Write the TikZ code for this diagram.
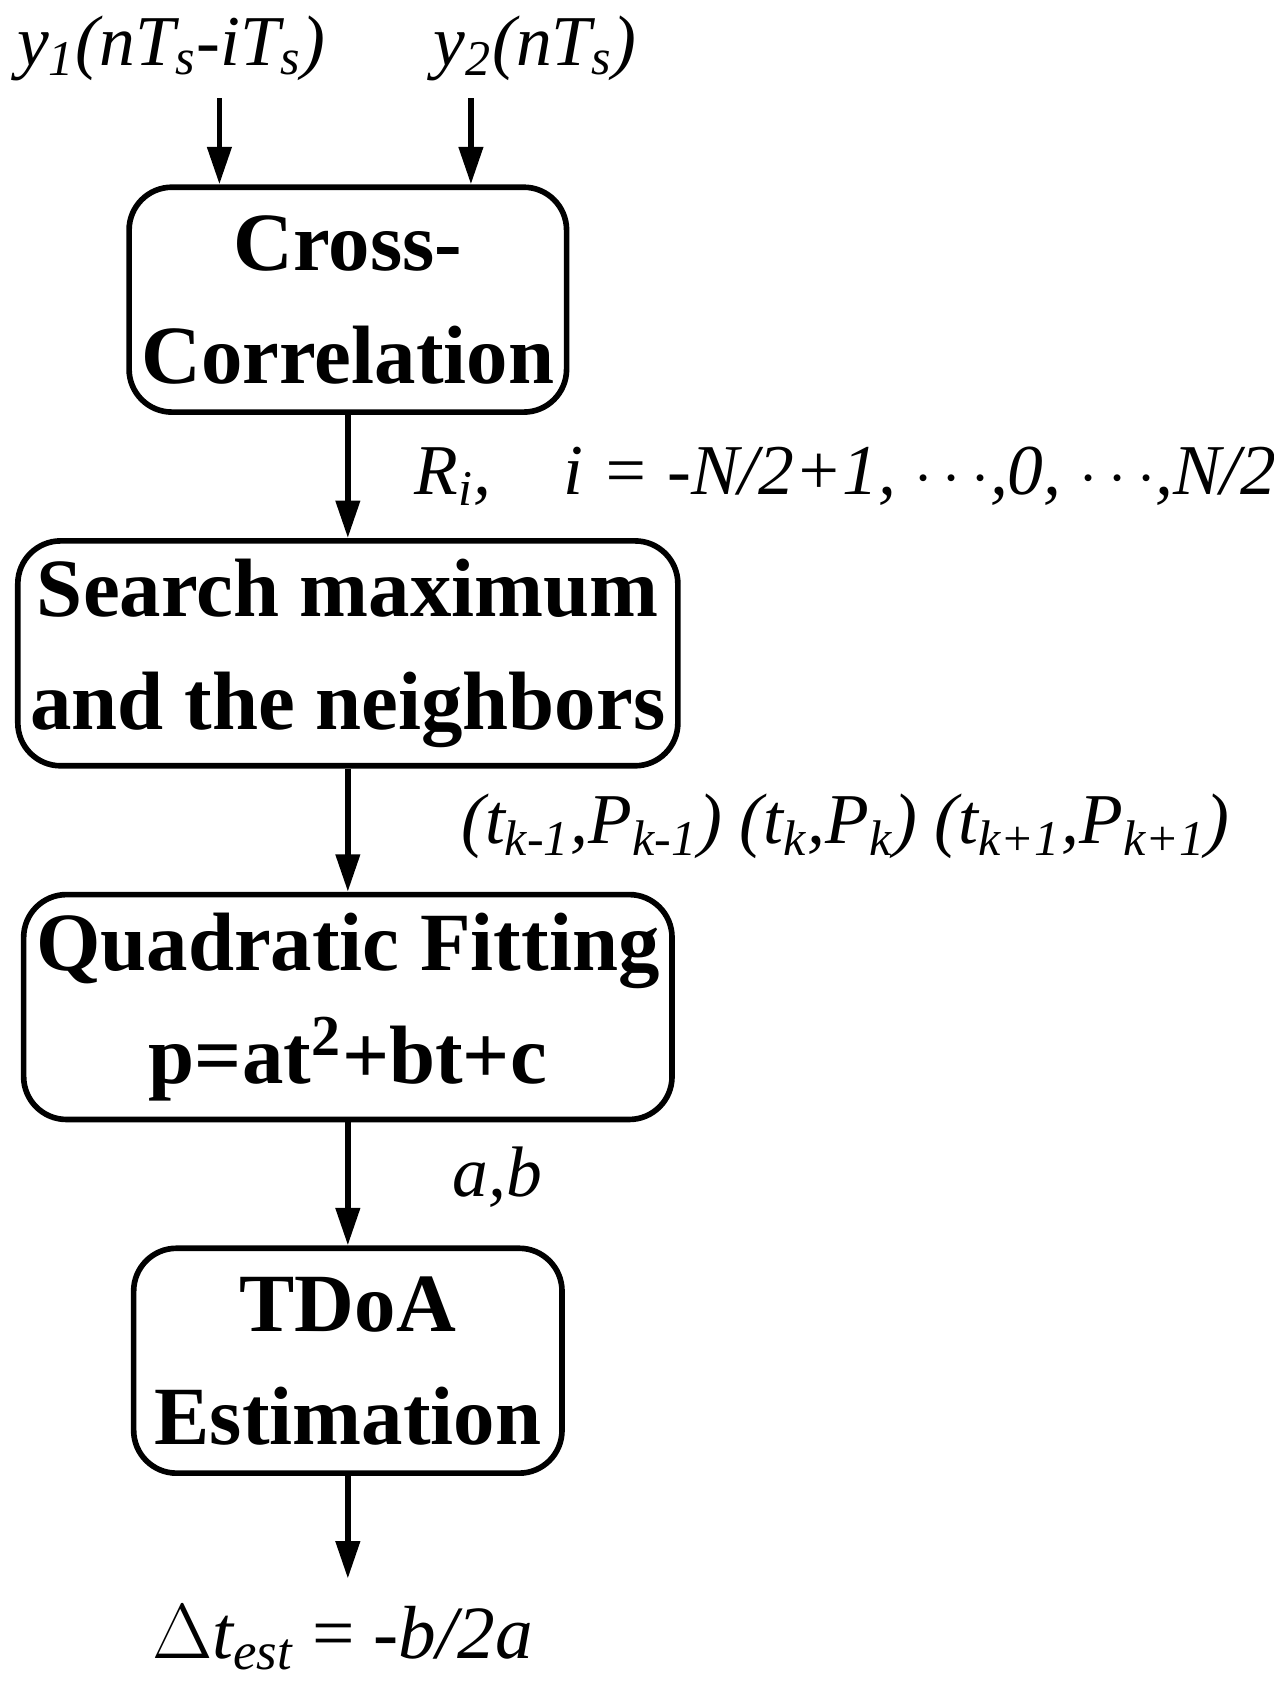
\documentclass[tikz,border=0pt]{standalone}
\usepackage{fontspec}
\setmainfont{Liberation Serif}
\usetikzlibrary{arrows.meta, positioning}

\begin{document}
\begin{tikzpicture}[x=0.01cm, y=-0.01cm, node distance=1.15cm, >={Triangle[length=0.35cm, width=0.22cm]},
    block/.style={draw, line width=1.5pt, rounded corners=0.4cm, minimum height=2.1cm, align=center, font=\fontsize{22}{30}\selectfont\bfseries},
    lbl/.style={font=\fontsize{19}{22}\selectfont\itshape}]
                \useasboundingbox (0,0) rectangle (1190,1580);
                % Nodes
                \node[block, minimum width=4cm] (cc) at (325,280) {Cross-\\Correlation};
                \node[block, minimum width=5.85cm] (sm) [below=of cc] {Search maximum\\and the neighbors};
                \node[block, minimum width=5.85cm] (qf) [below=of sm] {Quadratic Fitting\\p=at\textsuperscript{2}+bt+c};
                \node[block, minimum width=4cm] (te) [below=of qf] {TDoA\\Estimation};
                \node[lbl] (y1) at (160,45) {y\textsubscript{1}(nT\textsubscript{s}-iT\textsubscript{s})};
                \node[lbl] (y2) at (500,45) {y\textsubscript{2}(nT\textsubscript{s})};
                \coordinate (in1) at (205,92);
                \coordinate (in2) at (440,92);
                \node[lbl] (ri) at (790,445) {R\textsubscript{i},\quad i = -N/2+1, $\cdots$,0, $\cdots$,N/2};
                \node[lbl] (tp) at (790,772) {(t\textsubscript{k-1},P\textsubscript{k-1}) (t\textsubscript{k},P\textsubscript{k}) (t\textsubscript{k+1},P\textsubscript{k+1})};
                \node[lbl] (ab) at (465,1100) {a,b};
                \node[lbl, font=\fontsize{20}{22}\selectfont] (dt) at (320,1530) {$\Delta$\textit{t\textsubscript{est}} = \textit{-b/2a}};
                \coordinate (out) at (325,1475);

                % Edges
                \draw[->, line width=1.5pt] (in1) -- (in1 |- cc.north);
                \draw[->, line width=1.5pt] (in2) -- (in2 |- cc.north);
                \draw[->, line width=1.5pt] (cc) -- (sm);
                \draw[->, line width=1.5pt] (sm) -- (qf);
                \draw[->, line width=1.5pt] (qf) -- (te);
                \draw[->, line width=1.5pt] (te) -- (out);
            \end{tikzpicture}
\end{document}
